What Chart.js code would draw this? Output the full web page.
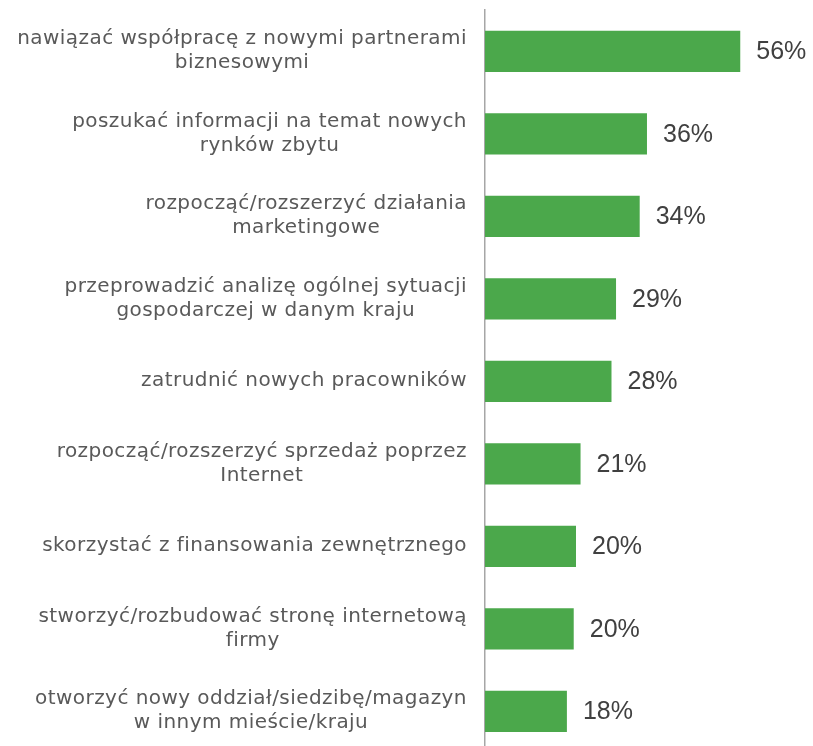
<!DOCTYPE html>
<html>
<head>
<meta charset="utf-8">
<script src="https://cdn.jsdelivr.net/npm/chart.js@4"></script>
<style>
  html, body { margin: 0; padding: 0; background: #fff; overflow: hidden; }
  #wrap { position: relative; width: 813px; height: 760px; }
</style>
</head>
<body>
<div id="wrap"><canvas id="chart"></canvas></div>
<script>
const categories = [
  ["nawiązać współpracę z nowymi partnerami", "biznesowymi"],
  ["poszukać informacji na temat nowych", "rynków zbytu"],
  ["rozpocząć/rozszerzyć działania", "marketingowe"],
  ["przeprowadzić analizę ogólnej sytuacji", "gospodarczej w danym kraju"],
  ["zatrudnić nowych pracowników"],
  ["rozpocząć/rozszerzyć sprzedaż poprzez", "Internet"],
  ["skorzystać z finansowania zewnętrznego"],
  ["stworzyć/rozbudować stronę internetową", "firmy"],
  ["otworzyć nowy oddział/siedzibę/magazyn", "w innym mieście/kraju"]
];
const values = [56.1, 35.6, 34.0, 28.8, 27.8, 21.0, 20.0, 19.5, 18.0];

const labelFont = "20px 'DejaVu Sans'";
const valueFont = "25px 'Liberation Sans'";

// category labels: each block right-aligned, lines centred inside it
const categoryLabels = {
  id: "categoryLabels",
  afterDraw(chart) {
    const ctx = chart.ctx;
    const y = chart.scales.y;
    const right = chart.chartArea.left - 18;
    ctx.save();
    ctx.font = labelFont;
    ctx.letterSpacing = "0.45px";
    ctx.fillStyle = "#595959";
    ctx.textAlign = "center";
    ctx.textBaseline = "middle";
    categories.forEach((lines, i) => {
      const w = Math.max(...lines.map((l) => ctx.measureText(l).width));
      const cx = right - w / 2;
      const cy = y.getPixelForValue(i);
      const lh = 24;
      const top = cy - ((lines.length - 1) * lh) / 2;
      lines.forEach((l, j) => ctx.fillText(l, cx, top + j * lh));
    });
    ctx.restore();
  }
};

const valueLabels = {
  id: "valueLabels",
  afterDatasetsDraw(chart) {
    const ctx = chart.ctx;
    const meta = chart.getDatasetMeta(0);
    ctx.save();
    ctx.font = valueFont;
    ctx.fillStyle = "#404040";
    ctx.textAlign = "left";
    ctx.textBaseline = "middle";
    meta.data.forEach((bar, i) => {
      ctx.fillText(Math.round(values[i]) + "%", bar.x + 16, bar.y + 1);
    });
    ctx.restore();
  }
};

new Chart(document.getElementById("chart"), {
  type: "bar",
  data: {
    labels: categories,
    datasets: [{
      data: values,
      backgroundColor: "#4BA84B",
      categoryPercentage: 1,
      barPercentage: 0.5
    }]
  },
  options: {
    indexAxis: "y",
    responsive: true,
    maintainAspectRatio: false,
    animation: false,
    layout: { padding: { top: 10, bottom: 7.5, left: 0, right: 9.5 } },
    plugins: { legend: { display: false }, tooltip: { enabled: false } },
    scales: {
      x: { display: false, min: 0, max: 70 },
      y: {
        grid: { display: false },
        border: { display: true, color: "#a6a6a6", width: 1.5 },
        ticks: { display: false },
        afterFit(scale) { scale.width = 485; }
      }
    }
  },
  plugins: [categoryLabels, valueLabels]
});
</script>
</body>
</html>
